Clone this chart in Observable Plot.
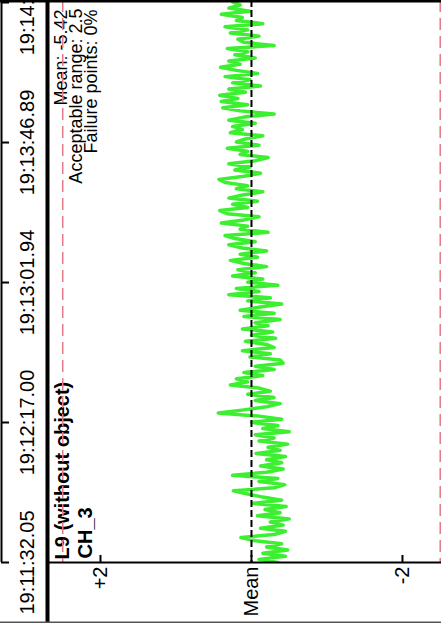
<!DOCTYPE html>
<html><head><meta charset="utf-8">
<script src="https://cdn.jsdelivr.net/npm/d3@7"></script>
<script src="https://cdn.jsdelivr.net/npm/@observablehq/plot@0.6"></script>
<style>
html,body{margin:0;padding:0;background:#fff;}
#chart svg{overflow:hidden;display:block;}
</style></head><body><div id="chart"></div>
<script>
// Signal deviation from mean (one sample per second from 19:11:32.05)
const sampleInterval = 1.0;
const deviation = [
  -0.35, -0.10, -0.45, -0.15, -0.48, -0.20, -0.40, -0.05, 0.14, -0.30,
  -0.45, -0.12, -0.42, -0.25, -0.50, -0.08, -0.38, -0.18, -0.46, -0.02,
  -0.40, -0.15, 0.05, 0.24, -0.30, -0.44, -0.10, -0.35, 0.25, -0.20,
  -0.42, -0.12, -0.40, -0.20, -0.45, -0.06, -0.38, -0.22, -0.48, -0.10,
  -0.30, -0.05, -0.50, -0.15, -0.35, 0.00, -0.40, -0.10, 0.44, 0.10,
  -0.20, -0.38, -0.05, -0.30, 0.05, -0.25, -0.10, 0.28, 0.05, 0.20,
  -0.15, 0.10, -0.30, -0.05, -0.42, -0.38, 0.02, -0.25, 0.12, -0.30,
  -0.20, 0.08, -0.32, 0.00, -0.28, 0.12, -0.22, -0.05, -0.38, 0.10,
  -0.30, 0.15, -0.12, -0.40, 0.05, -0.25, 0.30, -0.10, 0.20, -0.35,
  0.05, -0.15, 0.25, -0.05, 0.18, -0.20, 0.10, 0.28, -0.08, 0.15,
  -0.20, 0.12, 0.30, -0.05, 0.22, 0.35, -0.22, 0.15, 0.05, 0.40,
  0.10, -0.10, 0.32, 0.42, 0.05, 0.25, -0.08, 0.30, 0.12, -0.15,
  0.20, 0.05, 0.35, 0.43, 0.10, -0.12, 0.22, 0.02, 0.30, -0.05,
  -0.22, 0.15, 0.05, 0.32, -0.10, 0.20, 0.08, -0.15, 0.28, 0.12,
  0.25, -0.05, 0.30, 0.10, -0.30, 0.15, 0.38, 0.05, 0.40, 0.18,
  0.42, 0.08, 0.30, -0.12, 0.25, 0.02, 0.35, -0.08, 0.20, 0.41,
  0.15, 0.30, -0.05, 0.22, 0.05, 0.32, -0.30, 0.10, 0.18, -0.10,
  0.28, 0.05, 0.35, -0.15, 0.20, 0.12, 0.40, 0.02, 0.30, 0.15,
  0.25
];
const timeTickValues = [0, 44.95, 89.89, 134.84, 179.79];
const timeTickLabels = ["19:11:32.05", "19:12:17.00", "19:13:01.94", "19:13:46.89", "19:14:31.84"];
const valueTickValues = [2, 0, -2];
const valueTickLabels = ["+2", "Mean", "-2"];
const limitValues = [2.5, -2.5];
const meanValue = [0];
const titleLines = ["L9 (without object)", "CH_3"];
const statLines = ["Mean: -5.42", "Acceptable range: 2.5", "Failure points: 0%"];

const xDomain = [2.662, -2.517];
const yDomain = [0, 180.44];

const data = deviation.map((v, i) => ({t: i * sampleInterval, v}));
const timeLabel = new Map(timeTickValues.map((d, i) => [d, timeTickLabels[i]]));
const valueLabel = new Map(valueTickValues.map((d, i) => [d, valueTickLabels[i]]));
const font = '"Liberation Sans", Arial, sans-serif';
const red = "#e27a86";

const chart = Plot.plot({
  width: 441, height: 623,
  marginLeft: 50, marginRight: 0, marginTop: 0, marginBottom: 61,
  style: {fontFamily: font, fontSize: "20px", background: "#fff", color: "#000", overflow: "hidden"},
  x: {domain: xDomain, axis: null},
  y: {domain: yDomain, axis: null},
  marks: [
    Plot.line(data, {x: "v", y: "t", stroke: "#3cef30", strokeWidth: 3.5, clip: true}),
    Plot.ruleX(meanValue, {stroke: "#000", strokeWidth: 2, strokeDasharray: "7,3"}),
    Plot.text([titleLines[0]], {text: d => d, frameAnchor: "bottom-left", rotate: -90, textAnchor: "start", lineAnchor: "middle", dx: 12.5, dy: -3, fontSize: 20, fontWeight: "bold", fill: "#000"}),
    Plot.text([titleLines[1]], {text: d => d, frameAnchor: "bottom-left", rotate: -90, textAnchor: "start", lineAnchor: "middle", dx: 35, dy: -4, fontSize: 20, fontWeight: "bold", fill: "#000"}),
    Plot.text([statLines[0]], {text: d => d, frameAnchor: "top-left", rotate: -90, textAnchor: "end", lineAnchor: "middle", dx: 11, dy: 9, fontSize: 18, fill: "#000"}),
    Plot.text([statLines[1]], {text: d => d, frameAnchor: "top-left", rotate: -90, textAnchor: "end", lineAnchor: "middle", dx: 26, dy: 8, fontSize: 18, fill: "#000"}),
    Plot.text([statLines[2]], {text: d => d, frameAnchor: "top-left", rotate: -90, textAnchor: "end", lineAnchor: "middle", dx: 41, dy: 9, fontSize: 18, fill: "#000"}),
    Plot.ruleX(limitValues, {stroke: red, strokeWidth: 1.5, strokeDasharray: "12,6"}),
    // time axis panel on the left
    Plot.ruleX([xDomain[0]], {dx: -49, stroke: "#000", strokeWidth: 2}),
    Plot.axisY({ticks: timeTickValues, anchor: "left", tickSize: -8, dx: -49, tickRotate: -90,
      tickPadding: -18, textAnchor: "middle", lineAnchor: "middle", fontSize: 20,
      tickFormat: d => timeLabel.get(d), strokeWidth: 2, label: null}),
    // frame lines
    Plot.ruleX([xDomain[0]], {dx: -3, stroke: "#000", strokeWidth: 4, insetBottom: -61}),
    Plot.ruleY([yDomain[1]], {stroke: "#000", strokeWidth: 4, insetLeft: -50}),
    Plot.ruleY([yDomain[0]], {stroke: "#000", strokeWidth: 2, insetLeft: -2}),
    Plot.ruleY([yDomain[0]], {dy: 60, stroke: "#555", strokeWidth: 2, insetLeft: -50}),
    // value axis at the bottom
    Plot.axisX({ticks: valueTickValues, anchor: "bottom", tickSize: -7, tickRotate: -90,
      tickPadding: 11, textAnchor: "end", lineAnchor: "middle", fontSize: 20,
      tickFormat: d => valueLabel.get(d), strokeWidth: 2, label: null})
  ]
});
document.getElementById("chart").append(chart);
</script></body></html>
